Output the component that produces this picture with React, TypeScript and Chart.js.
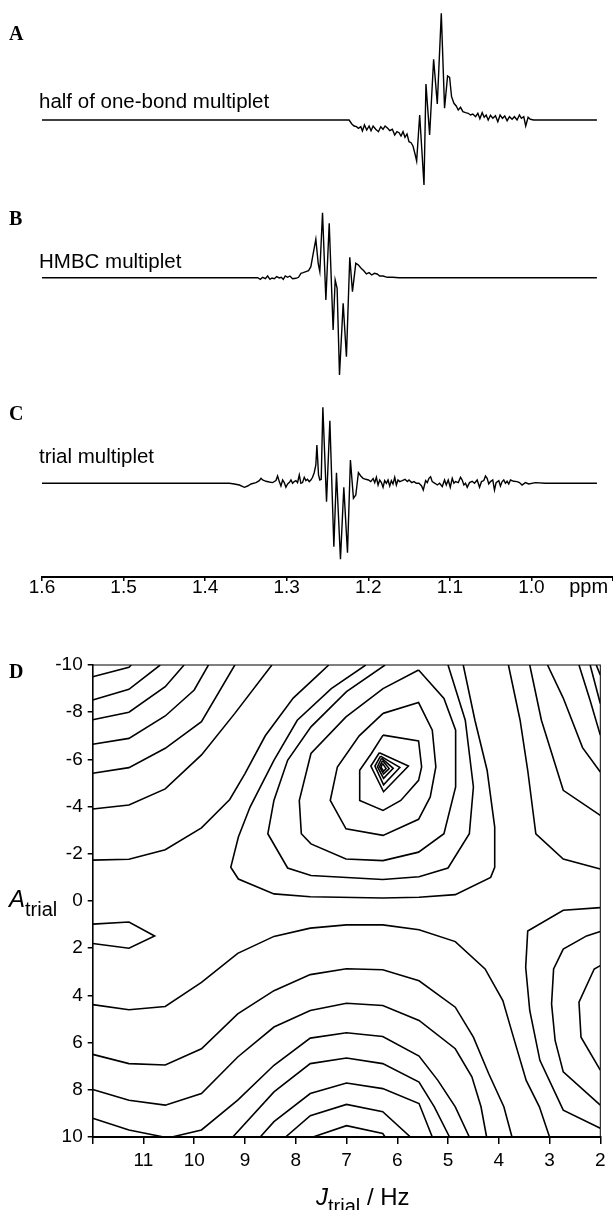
import React, { useEffect, useRef } from 'react';
import { Chart, registerables } from 'chart.js';

Chart.register(...registerables);

const SANS = '"Liberation Sans", Arial, Helvetica, sans-serif';
const SERIF = '"Liberation Serif", "Times New Roman", serif';

// ---------- Spectra: [ppm, intensity (arb. units)] ----------
const traceA: number[][] = [
  [1.6, 0], [1.2235, 0], [1.2202, -4], [1.2174, -6], [1.2145, -6.7], [1.2121, -8.3], [1.2092, -6.7], [1.2072, -11],
  [1.2047, -5], [1.2019, -10], [1.199, -6], [1.1966, -10.7], [1.1941, -6], [1.1909, -9.3], [1.1876, -11.7], [1.1847, -6.7],
  [1.1819, -9.3], [1.1794, -6], [1.1762, -8.3], [1.1737, -10.7], [1.1705, -9.3], [1.1676, -15], [1.1648, -11.7], [1.1623, -12.7],
  [1.1599, -16], [1.1574, -11.7], [1.155, -17.3], [1.1525, -14], [1.1501, -21.7], [1.1476, -22.7], [1.1452, -26], [1.1427, -34],
  [1.1407, -41], [1.137, 5], [1.1317, -65], [1.1293, 36], [1.1248, -15], [1.1199, 60.7], [1.1154, 16], [1.1105, 106.7],
  [1.1065, 11.7], [1.1028, 44], [1.1003, 42.7], [1.0979, 23.3], [1.095, 16.7], [1.0922, 14], [1.0897, 10], [1.0869, 12.7],
  [1.084, 8.3], [1.0808, 7.3], [1.0775, 6.7], [1.0747, 5], [1.0718, 6], [1.0685, 3.3], [1.0657, 6.7], [1.0632, 1.3],
  [1.0604, 7.3], [1.0579, 2.7], [1.0555, 5], [1.053, 0], [1.0502, 4.7], [1.0473, 1.7], [1.0441, 4.3], [1.0412, -1.7],
  [1.0384, 5], [1.0355, 1.7], [1.0327, 4], [1.0298, -0.7], [1.0269, 3.3], [1.0237, 0.7], [1.0208, 3.3], [1.0176, 0],
  [1.0147, 5], [1.0123, 1.7], [1.0094, 3.3], [1.007, -6], [1.0041, 2.7], [1.0013, 0.7], [0.9972, 0], [0.9197, 0],
];

const traceB: number[][] = [
  [1.6, 0], [1.3356, 0], [1.3323, -1.6], [1.3295, 0.4], [1.3262, -1], [1.3234, 1.7], [1.3205, -1.6], [1.3181, -0.3],
  [1.3152, -1], [1.3124, 1], [1.3091, -0.3], [1.3067, 0.4], [1.3042, -1.6], [1.3018, 1.7], [1.2989, 0.4], [1.2961, 1.7],
  [1.2928, -1], [1.2887, -0.6], [1.2855, 0.4], [1.2826, 4.4], [1.2798, 5], [1.2765, 6], [1.2732, 7], [1.2704, 11],
  [1.2675, 24.4], [1.2643, 38.4], [1.2614, 14.4], [1.2594, 6], [1.2561, 65], [1.252, -22.3], [1.2479, 54.4], [1.2431, -52.3],
  [1.2406, -2.3], [1.2382, -10.6], [1.2353, -97.3], [1.2308, -25.6], [1.2268, -79], [1.2227, 20.4], [1.2194, -14], [1.2153, 14.4],
  [1.2121, 12.7], [1.2088, 9.4], [1.2055, 7], [1.2023, 3.7], [1.199, 5], [1.1958, 2.7], [1.1925, 4.4], [1.1892, 3.7],
  [1.186, 1.7], [1.1819, 1.7], [1.1766, 0.4], [1.1705, 0.4], [1.1623, 0], [0.9197, 0],
];

const traceC: number[][] = [
  [1.6, 0], [1.3703, 0], [1.3642, -0.7], [1.358, -1.7], [1.3519, -4], [1.3479, -2.7], [1.3438, -0.7], [1.3377, 0.7],
  [1.3336, 2.7], [1.3315, 5], [1.3295, 3.3], [1.3254, 2], [1.3214, 1.3], [1.3173, 0.7], [1.3132, 2.7], [1.3112, 7.3],
  [1.3091, 1.7], [1.3071, -2.7], [1.305, 3.3], [1.303, 0.7], [1.301, -4], [1.2989, -0.7], [1.2969, 0.7], [1.2948, 3.3],
  [1.2928, 0], [1.2908, 1.7], [1.2887, 2.7], [1.2867, 0.7], [1.2846, 8.3], [1.2826, 0], [1.2806, 0.7], [1.2785, 6],
  [1.2765, 2.7], [1.2745, 4], [1.2724, 1.7], [1.2704, 3.3], [1.2683, 6], [1.2663, 10.6], [1.2643, 18.3], [1.263, 38.3],
  [1.261, 8.3], [1.2594, 3.3], [1.2577, 4], [1.2557, 76], [1.2512, -18.4], [1.2471, 62.6], [1.2422, -63.4], [1.239, 10.6],
  [1.2341, -76], [1.23, -4], [1.2255, -69.4], [1.2219, 23.3], [1.2182, -15], [1.2153, -11.7], [1.2121, 10.6], [1.2092, 7.3],
  [1.2064, 5], [1.2031, 4], [1.1998, 3.3], [1.197, 1.7], [1.1941, 4.7], [1.1921, 0.7], [1.1901, 6], [1.188, -1.7],
  [1.186, 3.3], [1.1839, 0.7], [1.1819, -4], [1.1799, 2.7], [1.1778, 0], [1.1758, 3.3], [1.1737, -2.7], [1.1717, 2.7],
  [1.1697, -0.7], [1.1676, 6], [1.1656, -1.7], [1.1636, 3.3], [1.1615, 1.7], [1.1583, 2.7], [1.155, 4], [1.1521, 1.7],
  [1.1501, 3.3], [1.1468, 0.7], [1.144, 1.7], [1.1411, 0], [1.1379, 0], [1.1346, -2.7], [1.1326, -6.7], [1.1297, 2.7],
  [1.1277, 0.7], [1.1256, 5], [1.1236, 6.6], [1.1216, 1.7], [1.1183, 0], [1.1154, -1.7], [1.1126, 0], [1.1093, -3.3],
  [1.1065, 3.3], [1.1044, -1.7], [1.102, 3.3], [1.0995, -4], [1.0971, 5], [1.095, 0], [1.093, 1.7], [1.0897, 0.7],
  [1.0869, 6], [1.0849, 3.3], [1.0828, -1.7], [1.0808, 0], [1.0787, -4], [1.0759, 0.7], [1.0726, 2], [1.0698, 0],
  [1.0665, 3.3], [1.0636, -4], [1.0612, 1.7], [1.0584, 2.7], [1.0563, 7.3], [1.0543, 5], [1.0523, -0.7], [1.0502, 1.7],
  [1.0474, 3.3], [1.0453, -6.7], [1.0433, 0.7], [1.04, 2.7], [1.038, -2.7], [1.0359, 1.7], [1.0339, 3.3], [1.0319, 0],
  [1.0298, 2], [1.0278, -0.7], [1.0257, 3.3], [1.0217, 2], [1.0176, 1.7], [1.0147, 0.7], [1.0115, -1.7], [1.0074, 0.7],
  [1.0033, -0.7], [0.9952, 0.7], [0.9829, 0], [0.9197, 0],
];

const ppmTicks = [1.6, 1.5, 1.4, 1.3, 1.2, 1.1, 1.0, 0.9];

// ---------- Panel D contours: [J_trial (Hz), A_trial] ----------
const contL1 = [[12, -9.5], [11.286, -9.9], [11.24, -10]];
const contL2 = [[12, -8.52], [11.286, -8.97], [10.67, -10]];
const contL3 = [[12, -7.68], [11.286, -8.0], [10.571, -9.08], [10.2, -10]];
const contL4 = [[12, -6.64], [11.286, -6.89], [10.571, -7.84], [10.0, -8.94], [9.72, -10]];
const contL5 = [[12, -5.41], [11.286, -5.65], [10.571, -6.47], [9.857, -7.6], [9.2, -10]];
const contL6 = [[12, -3.9], [11.286, -4.07], [10.571, -4.75], [9.857, -6.19], [9.2, -7.95], [8.47, -10]];
const contL7 = [[12, -1.73], [11.286, -1.77], [10.571, -2.17], [9.857, -3.1], [9.3, -4.3], [9.0, -5.4], [8.6, -7.0], [8.05, -8.6], [7.5, -9.7], [7.35, -10]];
const contU1 = [[6.62, -10], [7.3, -9.0], [7.97, -7.66], [8.43, -5.96], [8.9, -3.98], [9.13, -2.71], [9.28, -1.43], [9.13, -0.93], [8.429, -0.3], [7.714, -0.18], [6.286, -0.13], [5.571, -0.16], [4.857, -0.27], [4.16, -1.0], [4.08, -1.43], [4.08, -3.13], [4.23, -5.54], [4.47, -7.66], [4.7, -10]];
const contU2 = [[6.24, -10], [7.0, -8.87], [7.7, -7.38], [8.16, -5.96], [8.43, -4.26], [8.55, -2.85], [8.16, -1.4], [7.7, -1.08], [6.286, -0.91], [5.571, -1.03], [5.0, -1.4], [4.58, -2.85], [4.5, -4.83], [4.66, -7.66], [5.0, -10]];
const contRingC = [[5.58, -9.79], [5.08, -8.58], [4.85, -7.24], [4.85, -4.83], [5.08, -2.85], [5.58, -2.07], [6.28, -1.71], [7.01, -1.78], [7.7, -2.42], [7.89, -2.85], [7.93, -4.26], [7.7, -6.25], [7.01, -7.8], [6.28, -9.0], [5.58, -9.79]];
const contRingB = [[6.28, -7.95], [5.58, -8.41], [5.31, -7.24], [5.24, -5.68], [5.35, -4.41], [5.58, -3.46], [6.28, -2.78], [7.01, -3.06], [7.32, -4.26], [7.18, -5.68], [6.75, -7.0], [6.28, -7.95]];
const contRingA = [[6.28, -7.03], [5.58, -6.78], [5.52, -5.68], [5.58, -5.11], [5.93, -4.26], [6.28, -3.84], [6.74, -4.26], [6.74, -5.54], [6.51, -6.25], [6.28, -7.03]];
const contI1 = [[6.353, -6.28], [5.78, -5.72], [6.27, -4.63], [6.52, -5.72], [6.353, -6.28]];
const contI2 = [[6.33, -6.14], [5.95, -5.66], [6.27, -4.92], [6.44, -5.72], [6.33, -6.14]];
const contI3 = [[6.31, -6.05], [6.08, -5.62], [6.27, -5.2], [6.39, -5.69], [6.31, -6.05]];
const contI4 = [[6.29, -5.95], [6.16, -5.61], [6.27, -5.38], [6.35, -5.69], [6.29, -5.95]];
const contI5 = [[6.29, -5.83], [6.22, -5.61], [6.27, -5.5], [6.32, -5.67], [6.29, -5.83]];
const contR1 = [[2.08, -10], [2, -9.58]];
const contR2 = [[2.2, -10], [2, -8.37]];
const contR3 = [[2.42, -10], [2.2, -8.5], [2, -7.03]];
const contR4 = [[3.04, -10], [2.73, -8.6], [2.35, -6.5], [2, -5.47]];
const contR5 = [[3.39, -10], [3.16, -7.66], [2.73, -4.69], [2, -3.63]];
const contR6 = [[3.81, -10], [3.58, -7.66], [3.43, -5.54], [3.27, -2.85], [2.73, -1.78], [2, -1.36]];
const contWedge = [[12, 0.98], [11.286, 0.89], [10.78, 1.48], [11.286, 2.0], [12, 1.8]];
const contB1 = [[12, 4.39], [11.286, 4.61], [10.571, 4.47], [9.857, 3.45], [9.143, 2.22], [8.429, 1.5], [7.714, 1.15], [7, 1.01], [6.286, 1.01], [5.571, 1.22], [4.857, 1.72], [4.27, 2.88], [3.92, 4.22], [3.73, 5.63], [3.46, 7.6], [3.2, 8.72], [3.0, 10]];
const contB2 = [[12, 6.5], [11.286, 6.89], [10.571, 6.95], [9.857, 6.26], [9.143, 4.78], [8.429, 3.8], [7.714, 3.12], [7, 2.87], [6.286, 2.91], [5.571, 3.38], [4.857, 4.5], [4.5, 5.77], [4.2, 7.31], [3.9, 8.72], [3.74, 10]];
const contB3 = [[12, 7.99], [11.286, 8.44], [10.571, 8.65], [9.857, 8.16], [9.143, 6.61], [8.429, 5.34], [7.714, 4.64], [7, 4.33], [6.286, 4.43], [5.571, 5.06], [4.857, 6.26], [4.53, 7.45], [4.35, 8.72], [4.24, 10]];
const contB4 = [[12, 9.21], [11.286, 9.7], [10.6, 10]];
const contH1 = [[10.44, 10], [9.857, 9.7], [9.143, 8.44], [8.429, 6.96], [7.714, 5.81], [7, 5.58], [6.286, 5.74], [5.571, 6.57], [5.2, 7.6], [4.857, 8.72], [4.58, 10]];
const contH2 = [[9.24, 10], [8.429, 8.09], [7.714, 6.89], [7, 6.65], [6.286, 6.89], [5.571, 7.67], [5.27, 8.72], [4.97, 10]];
const contH3 = [[8.7, 10], [8.429, 9.35], [7.714, 8.16], [7, 7.71], [6.286, 7.95], [5.571, 8.58], [5.31, 10]];
const contH4 = [[8.2, 10], [7.714, 9.1], [7, 8.62], [6.286, 8.93], [5.74, 10]];
const contH5 = [[7.66, 10], [7, 9.52], [6.286, 9.85], [6.24, 10]];
const contRR1 = [[2, 2.74], [2.12, 2.88], [2.42, 4.29], [2.38, 5.77], [2, 7.17]];
const contRR2 = [[2, 1.29], [2.27, 1.48], [2.73, 2.04], [2.92, 2.88], [2.96, 4.36], [2.89, 5.91], [2.73, 7.24], [2, 8.65]];
const contRR3 = [[2, 0.28], [2.73, 0.39], [3.43, 1.27], [3.47, 2.81], [3.39, 4.64], [3.19, 6.75], [2.73, 8.86], [2, 9.63]];

const contours = [
  contL1, contL2, contL3, contL4, contL5, contL6, contL7, contU1, contU2, contRingC, contRingB, contRingA,
  contI1, contI2, contI3, contI4, contI5, contR1, contR2, contR3, contR4, contR5, contR6, contWedge,
  contB1, contB2, contB3, contB4, contH1, contH2, contH3, contH4, contH5, contRR1, contRR2, contRR3,
];

const jTicks = [12, 11, 10, 9, 8, 7, 6, 5, 4, 3, 2];
const aTicks = [-10, -8, -6, -4, -2, 0, 2, 4, 6, 8, 10];

const W = 613;

type SpecProps = { trace: number[][]; top: number; height: number; yMin: number; yMax: number; axis: boolean };

function Spectrum({ trace, top, height, yMin, yMax, axis }: SpecProps) {
  const ref = useRef<HTMLCanvasElement>(null);
  useEffect(() => {
    const xScale: any = {
      type: 'linear', min: 0.9, max: 1.6, reverse: true, display: axis,
    };
    if (axis) {
      Object.assign(xScale, {
        afterBuildTicks: (s: any) => { s.ticks = ppmTicks.map((v) => ({ value: v })); },
        afterFit: (s: any) => { s.height = 33; },
        border: { display: true, color: '#000', width: 2 },
        grid: { display: true, drawOnChartArea: false, drawTicks: true, tickLength: 4, color: '#000', lineWidth: 1.5 },
        ticks: {
          color: '#000', padding: -5, maxRotation: 0, autoSkip: false,
          font: { family: SANS, size: 19 },
          callback: (v: any) => (Math.abs(Number(v) - 0.9) < 1e-6 ? '' : Number(v).toFixed(1)),
        },
      });
    }
    const chart = new Chart(ref.current as HTMLCanvasElement, {
      type: 'line',
      data: {
        datasets: [{
          data: trace.map(([x, y]) => ({ x, y })),
          borderColor: '#000', borderWidth: 1.4, pointRadius: 0, tension: 0, fill: false, clip: false as any,
        }],
      },
      options: {
        responsive: false, animation: false, maintainAspectRatio: false,
        layout: { padding: { left: 42, right: 0, top: 0, bottom: 0 } },
        plugins: { legend: { display: false }, tooltip: { enabled: false } },
        scales: {
          x: xScale,
          y: { display: false, min: yMin, max: yMax },
        },
      },
    } as any);
    return () => chart.destroy();
  }, []);
  return <canvas ref={ref} width={W} height={height} style={{ position: 'absolute', left: 0, top, width: W, height }} />;
}

const framePlugin = {
  id: 'frame',
  afterDatasetsDraw(chart: any) {
    const { ctx, chartArea } = chart;
    ctx.save();
    ctx.strokeStyle = '#000';
    ctx.lineWidth = 1;
    ctx.strokeRect(chartArea.left, chartArea.top, chartArea.right - chartArea.left, chartArea.bottom - chartArea.top);
    ctx.restore();
  },
};

function ContourPanel() {
  const ref = useRef<HTMLCanvasElement>(null);
  useEffect(() => {
    const chart = new Chart(ref.current as HTMLCanvasElement, {
      type: 'scatter',
      data: {
        datasets: contours.map((c) => ({
          data: c.map(([x, y]) => ({ x, y })),
          showLine: true, borderColor: '#000', borderWidth: 1.6, pointRadius: 0, tension: 0, fill: false,
        })),
      },
      options: {
        responsive: false, animation: false, maintainAspectRatio: false,
        layout: { padding: { left: 0, right: 12.7, top: 25, bottom: 0 } },
        plugins: { legend: { display: false }, tooltip: { enabled: false } },
        scales: {
          x: {
            type: 'linear', min: 2, max: 12, reverse: true,
            afterBuildTicks: (s: any) => { s.ticks = jTicks.map((v) => ({ value: v })); },
            afterFit: (s: any) => { s.height = 73; },
            border: { display: true, color: '#000', width: 2 },
            grid: { display: true, drawOnChartArea: false, drawTicks: true, tickLength: 7, color: '#000', lineWidth: 1.5 },
            ticks: {
              color: '#000', padding: 5, maxRotation: 0, autoSkip: false,
              font: { family: SANS, size: 19 },
              callback: (v: any) => (Number(v) === 12 ? '' : String(v)),
            },
          },
          y: {
            type: 'linear', min: -10, max: 10, reverse: true,
            afterBuildTicks: (s: any) => { s.ticks = aTicks.map((v) => ({ value: v })); },
            afterFit: (s: any) => { s.width = 92.7; },
            border: { display: true, color: '#000', width: 1.5 },
            grid: { display: true, drawOnChartArea: false, drawTicks: true, tickLength: 5, color: '#000', lineWidth: 1.5 },
            ticks: {
              color: '#000', padding: 5, autoSkip: false,
              font: { family: SANS, size: 19 },
              callback: (v: any) => String(v),
            },
          },
        },
      },
      plugins: [framePlugin],
    } as any);
    return () => chart.destroy();
  }, []);
  return <canvas ref={ref} width={W} height={570} style={{ position: 'absolute', left: 0, top: 640, width: W, height: 570 }} />;
}

function Txt({ x, baseline, size, children, family = SANS, weight = 'normal', italic = false, center = false }: any) {
  const asc = family === SERIF ? 0.891 : 0.905;
  return (
    <div style={{
      position: 'absolute', left: x, top: baseline - asc * size, fontFamily: family, fontSize: size,
      fontWeight: weight, fontStyle: italic ? 'italic' : 'normal', lineHeight: 'normal', whiteSpace: 'nowrap',
      color: '#000', transform: center ? 'translateX(-50%)' : undefined,
    }}>{children}</div>
  );
}

export default function App() {
  return (
    <div style={{ position: 'absolute', left: 0, top: 0, width: W, height: 1210, background: '#fff', overflow: 'hidden' }}>
      <Spectrum trace={traceA} top={0} height={200} yMin={-80} yMax={120} axis={false} />
      <Spectrum trace={traceB} top={195} height={195} yMin={-112.3} yMax={82.7} axis={false} />
      <Spectrum trace={traceC} top={390} height={220} yMin={-93.7} yMax={93.3} axis={true} />
      <ContourPanel />

      <Txt x={9} baseline={40} size={20} family={SERIF} weight="bold">A</Txt>
      <Txt x={9} baseline={225} size={20} family={SERIF} weight="bold">B</Txt>
      <Txt x={9} baseline={420} size={20} family={SERIF} weight="bold">C</Txt>
      <Txt x={9} baseline={678} size={20} family={SERIF} weight="bold">D</Txt>

      <Txt x={39} baseline={108} size={20.5}>half of one-bond multiplet</Txt>
      <Txt x={39} baseline={268} size={20.5}>HMBC multiplet</Txt>
      <Txt x={39} baseline={463} size={20.5}>trial multiplet</Txt>
      <Txt x={588.6} baseline={593} size={20} center>ppm</Txt>

      <Txt x={9} baseline={907} size={24} italic>
        A<span style={{ fontStyle: 'normal', fontSize: 20, position: 'relative', top: 9 }}>trial</span>
      </Txt>
      <Txt x={316} baseline={1205} size={24}>
        <i>J</i><span style={{ fontSize: 20, position: 'relative', top: 8 }}>trial</span> / Hz
      </Txt>
    </div>
  );
}
